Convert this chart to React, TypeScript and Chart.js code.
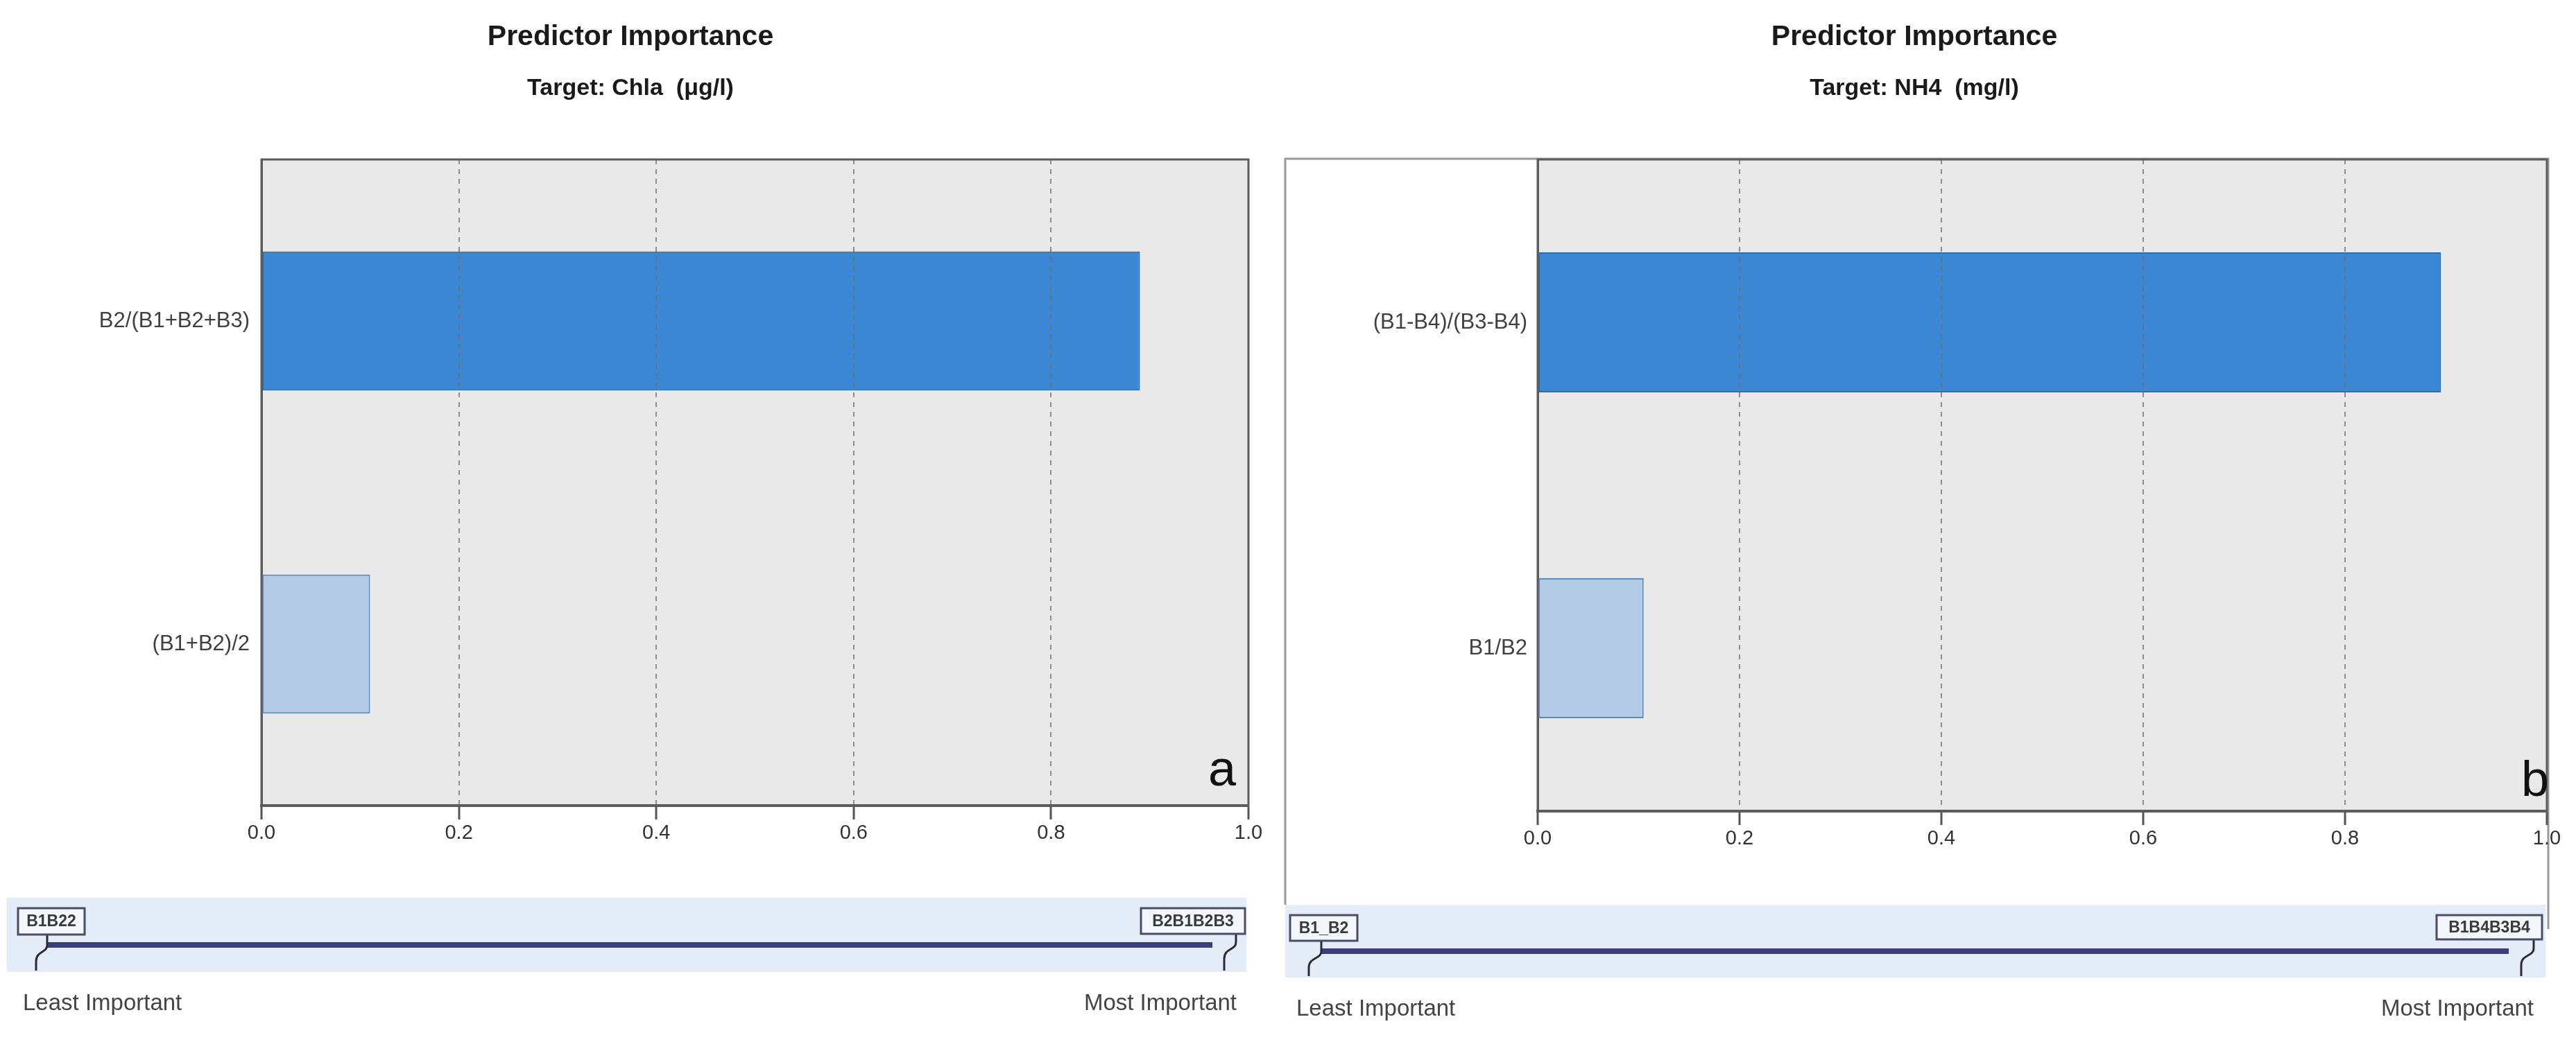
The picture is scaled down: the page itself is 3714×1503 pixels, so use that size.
import React, { useEffect, useRef } from "react";
import { Chart, registerables } from "chart.js";

Chart.register(...registerables);

// ---------------- data ----------------
const chlaCategories = ["B2/(B1+B2+B3)", "(B1+B2)/2"];
const chlaImportance = [0.89, 0.11];
const nh4Categories = ["(B1-B4)/(B3-B4)", "B1/B2"];
const nh4Importance = [0.895, 0.105];
const xTickValues = [0, 0.2, 0.4, 0.6, 0.8, 1.0];
const chartTitles = ["Predictor Importance", "Predictor Importance"];
const chartSubtitles = ["Target: Chla  (μg/l)", "Target: NH4  (mg/l)"];
const panelLetters = ["a", "b"];
const leastPredictorTags = ["B1B22", "B1_B2"];
const mostPredictorTags = ["B2B1B2B3", "B1B4B3B4"];
const scaleEndLabels = ["Least Important", "Most Important"];

const barFill = ["#3b87d3", "#b3cbe5"];
const barEdge = ["#2b6aab", "#5e88b8"];
const FONT = '"Liberation Sans", Arial, sans-serif';

// ---------------- layout (page pixel coordinates) ----------------
const panels = [
  {
    left: 0,
    width: 1830,
    area: { left: 377, right: 1800, top: 230, bottom: 1162 },
    yPad: 17,
    titleX: 909,
    letterBaseline: 1133,
    letterRight: 1782,
    band: { x0: 10, x1: 1797, y0: 1295, y1: 1402, lineY: 1363, lineX0: 68, lineX1: 1748 },
    minBox: { x0: 26, x1: 122, y0: 1310, y1: 1348, ax: 68, fx: 52 },
    maxBox: { x0: 1645, x1: 1795, y0: 1310, y1: 1347, ax: 1782, fx: 1765 },
    leastX: 33,
    mostX: 1783,
    endBaseline: 1457,
    outer: null as null | { x0: number; x1: number; y0: number; leftBottom: number; rightBottom: number },
  },
  {
    left: 1830,
    width: 1884,
    area: { left: 2217, right: 3672, top: 230, bottom: 1170 },
    yPad: 15,
    titleX: 2760,
    letterBaseline: 1148,
    letterRight: 3675,
    band: { x0: 1853, x1: 3670, y0: 1305, y1: 1410, lineY: 1372, lineX0: 1905, lineX1: 3617 },
    minBox: { x0: 1860, x1: 1957, y0: 1320, y1: 1357, ax: 1905, fx: 1887 },
    maxBox: { x0: 3513, x1: 3665, y0: 1320, y1: 1355, ax: 3653, fx: 3635 },
    leastX: 1869,
    mostX: 3653,
    endBaseline: 1465,
    outer: { x0: 1853, x1: 3674, y0: 229, leftBottom: 1305, rightBottom: 1340 },
  },
];

const PAGE_H = 1503;

function leader(ctx: CanvasRenderingContext2D, ax: number, topY: number, lineY: number, fx: number, bottomY: number) {
  ctx.beginPath();
  ctx.moveTo(ax, topY);
  ctx.lineTo(ax, lineY);
  ctx.bezierCurveTo(ax, lineY + 12, fx, lineY + 8, fx, lineY + 24);
  ctx.lineTo(fx, bottomY);
  ctx.stroke();
}

function tagBox(ctx: CanvasRenderingContext2D, b: any, ox: number, text: string) {
  ctx.fillStyle = "#f4f6fb";
  ctx.fillRect(b.x0 - ox, b.y0, b.x1 - b.x0, b.y1 - b.y0);
  ctx.strokeStyle = "#4a4d66";
  ctx.lineWidth = 3;
  ctx.strokeRect(b.x0 - ox, b.y0, b.x1 - b.x0, b.y1 - b.y0);
  ctx.fillStyle = "#3a3a3a";
  ctx.font = `bold 23px ${FONT}`;
  ctx.textAlign = "center";
  ctx.textBaseline = "middle";
  ctx.fillText(text, (b.x0 + b.x1) / 2 - ox, (b.y0 + b.y1) / 2 + 1, b.x1 - b.x0 - 8);
}

const decorPlugin = {
  id: "decor",
  beforeDraw(chart: any, _args: any, opts: any) {
    const ctx: CanvasRenderingContext2D = chart.ctx;
    const a = chart.chartArea;
    const p = panels[opts.panel];
    const ox = p.left;
    ctx.save();
    if (p.outer) {
      ctx.strokeStyle = "#9a9a9a";
      ctx.lineWidth = 3;
      ctx.beginPath();
      ctx.moveTo(p.outer.x0 - ox, p.outer.leftBottom);
      ctx.lineTo(p.outer.x0 - ox, p.outer.y0);
      ctx.lineTo(p.outer.x1 - ox, p.outer.y0);
      ctx.lineTo(p.outer.x1 - ox, p.outer.rightBottom);
      ctx.stroke();
    }
    ctx.fillStyle = "#e9e9e9";
    ctx.fillRect(a.left, a.top, a.right - a.left, a.bottom - a.top);
    ctx.restore();
  },
  afterDraw(chart: any, _args: any, opts: any) {
    const ctx: CanvasRenderingContext2D = chart.ctx;
    const a = chart.chartArea;
    const i = opts.panel;
    const p = panels[i];
    const ox = p.left;
    ctx.save();
    // plot frame
    ctx.strokeStyle = "#5c5c5c";
    ctx.lineWidth = 3;
    ctx.strokeRect(a.left, a.top, a.right - a.left, a.bottom - a.top);
    // panel letter
    ctx.fillStyle = "#111";
    ctx.font = `72px ${FONT}`;
    ctx.textAlign = "right";
    ctx.textBaseline = "alphabetic";
    ctx.fillText(panelLetters[i], p.letterRight - ox, p.letterBaseline);

    // titles
    ctx.fillStyle = "#1a1a1a";
    ctx.textAlign = "center";
    ctx.textBaseline = "alphabetic";
    ctx.font = `bold 41px ${FONT}`;
    ctx.fillText(chartTitles[i], p.titleX - ox, 65);
    ctx.font = `bold 34px ${FONT}`;
    ctx.fillText(chartSubtitles[i], p.titleX - ox, 137);

    // importance band
    const b = p.band;
    ctx.fillStyle = "#e4ecf8";
    ctx.fillRect(b.x0 - ox, b.y0, b.x1 - b.x0, b.y1 - b.y0);
    ctx.strokeStyle = "#3a3e7c";
    ctx.lineWidth = 8;
    ctx.lineCap = "butt";
    ctx.beginPath();
    ctx.moveTo(b.lineX0 - ox, b.lineY);
    ctx.lineTo(b.lineX1 - ox, b.lineY);
    ctx.stroke();

    ctx.strokeStyle = "#2a2a3a";
    ctx.lineWidth = 3;
    leader(ctx, p.minBox.ax - ox, p.minBox.y1, b.lineY, p.minBox.fx - ox, b.y1 - 2);
    leader(ctx, p.maxBox.ax - ox, p.maxBox.y1, b.lineY - 4, p.maxBox.fx - ox, b.y1 - 2);

    tagBox(ctx, p.minBox, ox, leastPredictorTags[i]);
    tagBox(ctx, p.maxBox, ox, mostPredictorTags[i]);

    ctx.fillStyle = "#444";
    ctx.font = `33px ${FONT}`;
    ctx.textBaseline = "alphabetic";
    ctx.textAlign = "left";
    ctx.fillText(scaleEndLabels[0], p.leastX - ox, p.endBaseline);
    ctx.textAlign = "right";
    ctx.fillText(scaleEndLabels[1], p.mostX - ox, p.endBaseline);
    ctx.restore();
  },
};

function ImportanceChart({ panel, categories, values }: { panel: number; categories: string[]; values: number[] }) {
  const ref = useRef<HTMLCanvasElement>(null);
  const p = panels[panel];
  useEffect(() => {
    const canvas = ref.current!;
    const a = p.area;
    const chart = new Chart(canvas, {
      type: "bar",
      data: {
        labels: categories,
        datasets: [
          {
            data: values,
            backgroundColor: barFill,
            borderColor: barEdge,
            borderWidth: 2,
            borderSkipped: false,
            barPercentage: 0.43,
            categoryPercentage: 1,
          },
        ],
      },
      options: {
        indexAxis: "y",
        responsive: false,
        animation: false,
        devicePixelRatio: 1,
        layout: {
          padding: { top: a.top, left: 0, right: p.width - (a.right - p.left), bottom: 0 },
        },
        plugins: {
          legend: { display: false },
          tooltip: { enabled: false },
          title: { display: false },
          decor: { panel },
        } as any,
        scales: {
          x: {
            type: "linear",
            min: 0,
            max: 1,
            afterBuildTicks: (scale: any) => {
              scale.ticks = xTickValues.map((v) => ({ value: v }));
            },
            afterFit: (scale: any) => {
              scale.height = PAGE_H - a.bottom;
            },
            ticks: {
              callback: (v: any) => Number(v).toFixed(1),
              font: { size: 29, family: FONT },
              color: "#333",
              padding: 3,
              maxRotation: 0,
              autoSkip: false,
            },
            grid: {
              color: (c: any) =>
                c.tick && (c.tick.value === 0 || c.tick.value === 1) ? "rgba(0,0,0,0)" : "rgba(110,110,110,0.75)",
              lineWidth: 2,
              z: 1,
              drawTicks: true,
              tickLength: 20,
              tickColor: "#555",
              tickWidth: 3,
              tickBorderDash: [],
            },
            border: { display: true, color: "#555", width: 4, dash: [7, 7], z: 1 },
          },
          y: {
            type: "category",
            afterFit: (scale: any) => {
              scale.width = a.left - p.left;
            },
            ticks: {
              font: { size: 31, family: FONT },
              color: "#404040",
              padding: p.yPad,
            },
            grid: { display: false, drawTicks: false },
            border: { display: true, color: "#555", width: 3 },
          },
        },
      } as any,
      plugins: [decorPlugin as any],
    });
    return () => chart.destroy();
  }, []);
  return (
    <canvas
      ref={ref}
      width={p.width}
      height={PAGE_H}
      style={{ position: "absolute", left: p.left, top: 0, width: p.width, height: PAGE_H, display: "block" }}
    />
  );
}

export default function App() {
  useEffect(() => {
    document.body.style.margin = "0";
    document.body.style.overflow = "hidden";
  }, []);
  return (
    <div style={{ position: "absolute", left: 0, top: 0, width: 3714, height: PAGE_H, background: "#fff", overflow: "hidden" }}>
      <ImportanceChart panel={0} categories={chlaCategories} values={chlaImportance} />
      <ImportanceChart panel={1} categories={nh4Categories} values={nh4Importance} />
    </div>
  );
}
